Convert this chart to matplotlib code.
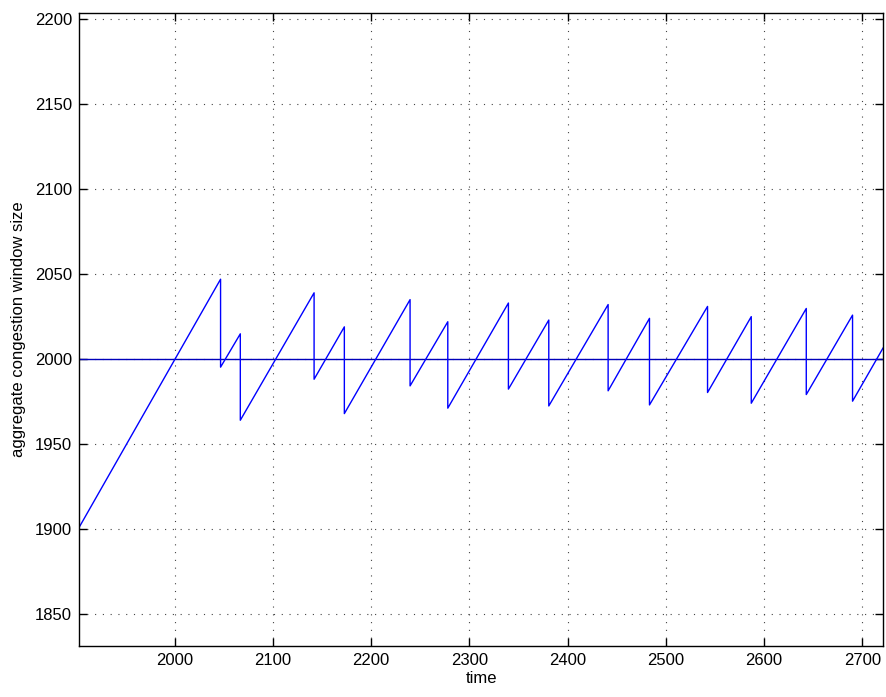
import numpy as np
import matplotlib as mpl
import matplotlib.pyplot as plt

mpl.rcParams['font.family'] = ['Liberation Sans', 'DejaVu Sans']

# sawtooth vertices (time, aggregate window)
time = [1902.6, 2046.7, 2046.7, 2066.8, 2066.8, 2141.9, 2141.9, 2172.7, 2172.7,
        2239.6, 2239.6, 2278.0, 2278.0, 2339.7, 2339.7, 2380.8, 2380.8,
        2441.2, 2441.2, 2483.3, 2483.3, 2542.4, 2542.4, 2586.9, 2586.9,
        2642.9, 2642.9, 2690.0, 2690.0, 2721.0]
cwnd = [1901.0, 2047.0, 1995.3, 2014.9, 1964.1, 2039.0, 1988.2, 2019.0, 1968.0,
        2035.0, 1984.3, 2022.0, 1971.2, 2033.0, 1982.4, 2023.0, 1972.5,
        2032.1, 1981.4, 2024.0, 1973.1, 2031.0, 1980.4, 2025.0, 1974.1,
        2029.8, 1979.2, 2025.9, 1975.3, 2006.5]
target = 2000

xticks = [2000, 2100, 2200, 2300, 2400, 2500, 2600, 2700]
yticks = [1850, 1900, 1950, 2000, 2050, 2100, 2150, 2200]

fig = plt.figure(figsize=(8.86, 6.97), dpi=100)
ax = fig.add_axes([79 / 886, 1 - 646 / 697, (883 - 79) / 886, (646 - 13.3) / 697])

ax.axhline(target, color='#0000bb', lw=1.0)
ax.plot(time, cwnd, color='blue', lw=1.0)

ax.set_xlim(1902.6, 2721)
ax.set_ylim(1831.4, 2203.3)
ax.set_xticks(xticks)
ax.set_yticks(yticks)
ax.grid(True, color='#444444', ls=(0, (1, 6)), lw=0.8)
ax.tick_params(direction='in', top=True, right=True, length=6, width=1,
               labelsize=12, pad=5)
for s in ax.spines.values():
    s.set_linewidth(1.0)

ax.set_xlabel('time', fontsize=12, labelpad=2)
ax.set_ylabel('aggregate congestion window size', fontsize=12, labelpad=6)

fig.savefig('out.png', dpi=100)
